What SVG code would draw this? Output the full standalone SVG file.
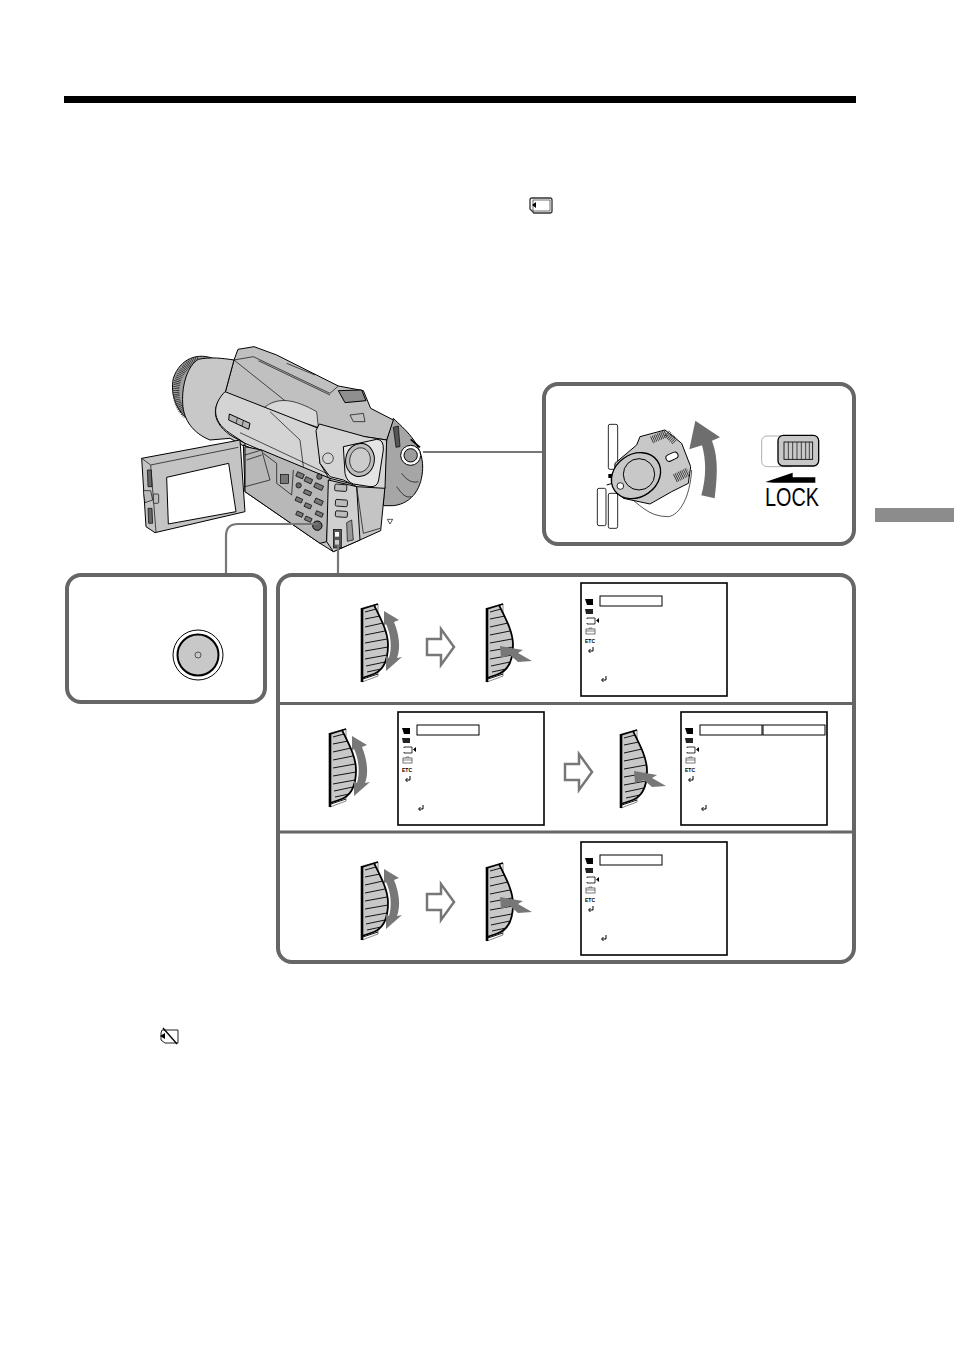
<svg xmlns="http://www.w3.org/2000/svg" xmlns:xlink="http://www.w3.org/1999/xlink" width="954" height="1352" viewBox="0 0 954 1352">
<style>
.box{fill:#fff;stroke:#666;stroke-width:4}
.conn{fill:none;stroke:#777;stroke-width:2.2}
.menu{fill:#fff;stroke:#000;stroke-width:1.6}
.sel{fill:#fff;stroke:#000;stroke-width:1}
.ln{fill:none;stroke:#000;stroke-width:.9}
.t{fill:none;stroke:#000;stroke-width:3}
.n{fill:none;stroke:#000;stroke-width:2}
.g{fill:#c8c8c8;stroke:#000;stroke-width:3}
.w{fill:#fff;stroke:#000;stroke-width:3}
.ar{fill:#777}
.etc{font:bold 5px "Liberation Sans",Arial,sans-serif;fill:#000}
.lock{font:26px "Liberation Sans",Arial,sans-serif;fill:#000}
</style>
<defs>
<g id="dial">
<path d="M1 4L17 0V72L1 78Z" fill="#fff" stroke="#555" stroke-width=".7"/>
<path d="M1 5L13 1C20 15 27 28 27 41C27 58 21 68 10 71L1 74Z" fill="#c8c8c8"/>
<path d="M13 1C20 15 27 28 27 41C27 58 21 68 10 71L1 74" fill="none" stroke="#000" stroke-width="1.800"/>
<path d="M1 4V78" stroke="#000" stroke-width="2.600"/>
<path d="M1 5L17 0" stroke="#000" stroke-width="1.500"/>
<path class="ln" d="M4 8L15 5M4 15L19 12M4 23L22 19M4 31L24 27M4 39L26 35M4 47L27 43M4 55L26 51M5 62L24 58M6 68L20 65M2 75L17 70"/>
</g>
<path id="turn" class="ar" d="M23 7L38 16L33 18C38 30 40 44 36 54L41 53L25 67L25 52L28 54C31 44 30 30 25 20L23 22Z"/>
<path id="push" class="ar" d="M0 0L23 4L18 7L32 15L18 16L10 9L1 12Z"/>
<path id="hollow" fill="#fff" stroke="#777" stroke-width="2.500" d="M1 11H15V1L28 19L15 37V27H1Z"/>
<g id="menuframe">
<rect class="menu" width="146" height="113"/>
<path d="M4 16H12V22H6Z" fill="#000"/>
<path d="M4 26H12V31H5Z" fill="#222"/>
<path d="M6 35H14V41H6M6 35V36M6 40V41" fill="none" stroke="#000" stroke-width=".8"/>
<path d="M18 35V40L15 37.500Z" fill="#000"/>
<rect x="5" y="46" width="9" height="5" fill="none" stroke="#555" stroke-width=".8"/>
<path d="M5 48H14M8 46V45H11V46" fill="none" stroke="#555" stroke-width=".7"/>
<text class="etc" x="4" y="60">ETC</text>
<path d="M12 64V68H8M9.500 66L7.500 68L9.500 70" fill="none" stroke="#000" stroke-width="1"/>
<path d="M25 93V97H21M22.500 95L20.500 97L22.500 99" fill="none" stroke="#000" stroke-width="1"/>
</g>
</defs>
<rect width="954" height="1352" fill="#fff"/>
<rect id="top-rule" x="64" y="96" width="792" height="7" fill="#000"/>
<rect id="side-tab" x="875" y="508" width="79" height="14" fill="#8c8c8c"/>
<g id="card-icon" fill="none" stroke="#333" stroke-width="1.300">
<path d="M532 198H550Q552 198 552 200V211Q552 213 550 213H534L530 209V200Q530 198 532 198Z"/>
<rect x="533" y="200" width="17" height="11" stroke-width=".7"/>
<path d="M536 202V208L532 205Z" fill="#000" stroke="none"/>
</g>
<g id="no-card-icon" fill="none" stroke="#222" stroke-width="1">
<path d="M162 1030H178V1043H165L161 1040V1033Z"/>
<path d="M165 1033V1039L160 1036Z" fill="#000" stroke="none"/>
<path d="M163 1028L177 1044" stroke="#000" stroke-width="1.300"/>
</g>
<g id="camcorder" transform="translate(130 340) scale(.33333)">
<path class="g" style="fill:#a6a6a6" d="M790 235C820 265 880 310 878 385C876 440 850 490 790 497L760 497L770 300Z"/>
<path class="n" d="M815 400C830 420 845 430 865 425M800 440C815 460 825 475 845 470"/>
<path d="M255 58C205 35 150 55 130 115C120 165 140 215 178 240L240 200Z" fill="#a0a0a0" stroke="#000" stroke-width="3"/>
<path d="M205 58C165 70 140 110 138 150C138 185 150 210 170 228" fill="none" stroke="#333" stroke-width="20" stroke-dasharray="2.500 3"/>
<path class="g" style="fill:#c0c0c0" d="M312 60L324 28L372 20L440 45L625 138L700 152L722 205L790 240L770 300L565 270L285 160Z"/>
<path class="n" d="M312 60L370 50L600 160M385 62L600 165M470 70L555 105M600 160L625 138M312 60L565 262"/>
<path class="g" style="fill:#8f8f8f" d="M625 152L695 150L708 182L645 188Z"/>
<path class="n" d="M660 225L700 220L705 245L670 245Z"/>
<path d="M400 205C440 170 490 175 560 215L565 262L420 215Z" fill="#d8d8d8" stroke="#000" stroke-width="2"/>
<path class="g" d="M205 58C240 50 280 55 312 60L285 160C250 190 238 240 300 285L345 310L345 320L300 295L240 300C190 280 160 240 158 190C155 130 175 75 205 58Z"/>
<path class="g" style="fill:#d4d4d4" d="M285 155L565 265L570 370L600 420L345 310L300 280C240 240 250 190 285 155Z"/>
<path class="n" d="M420 215L510 300L520 380M330 278L600 405"/>
<path class="w" style="fill:#b5b5b5" d="M298 222L360 250L356 268L296 240Z"/>
<path class="n" d="M322 235L318 250M340 243L336 258"/>
<path class="g" style="fill:#c4c4c4" d="M600 415L680 435L765 440L752 572L690 600L610 635L570 610L345 455L340 315Z"/>
<path class="g" style="fill:#d4d4d4" d="M558 272L568 252L705 290L770 300L765 445L680 440L640 420L600 410L570 370Z"/>
<circle cx="594" cy="355" r="16" class="n"/>
<path d="M640 320L740 298Q762 298 760 330L746 420Q742 442 720 440L670 432Q650 425 645 400Z" fill="#e4e4e4" stroke="#000" stroke-width="3"/>
<ellipse cx="690" cy="360" rx="43" ry="50" transform="rotate(10 690 360)" fill="#bdbdbd" stroke="#000" stroke-width="3"/>
<ellipse cx="690" cy="360" rx="31" ry="37" transform="rotate(10 690 360)" fill="#ccc" stroke="#000" stroke-width="2"/>
<path d="M790 262L805 258L810 320L798 322Z" fill="#555" stroke="#000" stroke-width="2"/>
<circle cx="842" cy="346" r="30" fill="#fff" stroke="#000" stroke-width="3"/>
<circle cx="842" cy="346" r="20" fill="#9c9c9c" stroke="#000" stroke-width="3"/>
<path d="M842 298L870 322" stroke="#000" stroke-width="5"/>
<path class="g" style="fill:#b8b8b8" d="M345 320L395 330L600 415L590 605L570 610L345 455Z"/>
<path class="n" d="M345 345L395 330L420 420L345 440M350 360L395 345M400 340L440 370L440 430L485 465L490 390"/>
<rect x="452" y="404" width="24" height="26" class="n" style="fill:#777"/>
<g fill="#777" stroke="#000" stroke-width="2">
<rect x="503" y="395" width="22" height="14" transform="rotate(24 503 395)"/>
<rect x="528" y="410" width="22" height="14" transform="rotate(24 528 410)"/>
<rect x="557" y="428" width="26" height="14" transform="rotate(24 557 428)"/>
<rect x="525" y="448" width="22" height="12" transform="rotate(24 525 448)"/>
<rect x="558" y="474" width="24" height="14" transform="rotate(24 558 474)"/>
<rect x="500" y="470" width="20" height="12" transform="rotate(24 500 470)"/>
<rect x="527" y="488" width="20" height="12" transform="rotate(24 527 488)"/>
<rect x="502" y="513" width="20" height="12" transform="rotate(24 502 513)"/>
<rect x="528" y="528" width="20" height="12" transform="rotate(24 528 528)"/>
<rect x="560" y="512" width="22" height="12" transform="rotate(24 560 512)"/>
</g>
<circle cx="506" cy="436" r="8" class="n" style="fill:#666"/>
<circle cx="568" cy="410" r="8" class="n" style="fill:#666"/>
<circle cx="562" cy="557" r="14" fill="#666" stroke="#000" stroke-width="3"/>
<path class="g" style="fill:#cfcfcf" d="M595 420L680 440L690 600L610 635L590 605Z"/>
<path class="n" d="M680 440L700 580L750 565"/>
<g fill="#bbb" stroke="#000" stroke-width="2.500">
<rect x="615" y="432" width="36" height="20" rx="4" transform="rotate(4 615 432)"/>
<rect x="617" y="478" width="36" height="20" rx="4" transform="rotate(4 617 478)"/>
<rect x="617" y="512" width="36" height="18" rx="4" transform="rotate(4 617 512)"/>
</g>
<rect x="610" y="568" width="24" height="56" fill="#555" stroke="#000" stroke-width="2"/>
<rect x="615" y="576" width="12" height="14" fill="#fff"/>
<rect x="615" y="600" width="12" height="14" fill="#ccc"/>
<path d="M650 548L665 540L670 600L652 604Z" fill="#999" stroke="#000" stroke-width="2"/>
<path d="M772 538L788 538L780 552Z" class="n"/>
<path class="g" style="fill:#c4c4c4" d="M35 355L330 300L345 515L75 578L48 560Z"/>
<path class="n" d="M35 355L62 375L325 322M62 375L78 576"/>
<path d="M110 412L296 370L318 515L115 552Z" fill="#fff" stroke="#000" stroke-width="3"/>
<path d="M52 390H64L66 440H54ZM54 505H66L68 550H56Z" fill="#666" stroke="#000" stroke-width="2"/>
<path d="M40 452H62L68 480L45 488Z" fill="#bbb" stroke="#000" stroke-width="2"/>
<rect x="70" y="462" width="16" height="28" rx="3" fill="#bbb" stroke="#000" stroke-width="2"/>
</g>
<g id="connectors">
<path class="conn" d="M423 452H544"/>
<path class="conn" d="M318 524H238Q226 524 226 536V575"/>
<path class="conn" d="M338 545V575"/>
</g>
<g id="lock-panel">
<rect class="box" x="544" y="384" width="310" height="160" rx="14"/>
<g transform="translate(540 380) scale(.33333)">
<rect x="205" y="133" width="28" height="135" rx="5" class="w" style="stroke-width:2.500"/>
<rect x="205" y="340" width="28" height="105" rx="5" class="w" style="stroke-width:2.500"/>
<rect x="172" y="325" width="26" height="112" rx="5" class="w" style="stroke-width:2.500"/>
<path d="M200 315L235 305" class="t"/>
<rect x="205" y="282" width="12" height="12" fill="#000"/>
<path d="M250 340C300 370 320 410 385 410C420 405 450 350 455 270" fill="#fff" stroke="#000" stroke-width="2"/>
<path class="g" d="M225 250L290 195L300 170L375 150L425 190L452 260L445 310L395 335L330 372L250 355L222 320Z"/>
<path d="M335 180L380 160L405 185" fill="none" stroke="#333" stroke-width="22" stroke-dasharray="2.500 3"/>
<path d="M405 295L445 275" fill="none" stroke="#333" stroke-width="26" stroke-dasharray="2.500 3"/>
<rect x="377" y="220" width="38" height="20" rx="10" transform="rotate(-25 396 230)" fill="#fff" stroke="#000" stroke-width="3"/>
<ellipse cx="288" cy="287" rx="78" ry="64" transform="rotate(-35 288 287)" fill="#c8c8c8" stroke="#000" stroke-width="4"/>
<circle cx="297" cy="283" r="47" fill="#c8c8c8" stroke="#000" stroke-width="3"/>
<circle cx="241" cy="318" r="10" fill="#fff" stroke="#000" stroke-width="2.500"/>
<path d="M466 122L540 172L516 182C538 240 530 300 524 355L484 346C500 290 498 240 486 196L448 208Z" fill="#6e6e6e"/>
<rect x="665" y="168" width="100" height="92" rx="16" fill="#fff" stroke="#888" stroke-width="2"/>
<rect x="714" y="166" width="122" height="92" rx="16" fill="#c8c8c8" stroke="#000" stroke-width="4"/>
<rect x="732" y="186" width="86" height="52" fill="none" stroke="#000" stroke-width="2.500"/>
<path d="M745 186V238M758 186V238M771 186V238M784 186V238M797 186V238M808 186V238" stroke="#000" stroke-width="2"/>
<path d="M676 306L758 278V292H826V308H700Z" fill="#000"/>
</g>
<text class="lock" x="765" y="506" textLength="54" lengthAdjust="spacingAndGlyphs">LOCK</text>
</g>
<g id="button-panel">
<rect class="box" x="67" y="575" width="198" height="127" rx="14"/>
<circle cx="198" cy="655" r="25" fill="#fff" stroke="#000" stroke-width="1"/>
<circle cx="198" cy="655" r="20.500" fill="#c8c8c8" stroke="#000" stroke-width="2"/>
<circle cx="198" cy="655" r="3" fill="#c8c8c8" stroke="#333" stroke-width=".8"/>
</g>
<g id="steps-panel">
<rect class="box" x="278" y="575" width="576" height="387" rx="14"/>
<path d="M278 703.500H854M278 832H854" stroke="#666" stroke-width="3"/>
</g>
<g id="step-1">
<use xlink:href="#dial" href="#dial" x="361" y="604"/>
<use xlink:href="#turn" href="#turn" x="361" y="604"/>
<use xlink:href="#hollow" href="#hollow" x="426" y="628"/>
<use xlink:href="#dial" href="#dial" x="486" y="604"/>
<use xlink:href="#push" href="#push" x="500" y="646"/>
<use xlink:href="#menuframe" href="#menuframe" x="581" y="583"/>
<rect class="sel" x="600" y="596" width="62" height="10"/>
</g>
<g id="step-2">
<use xlink:href="#dial" href="#dial" x="329" y="729"/>
<use xlink:href="#turn" href="#turn" x="329" y="729"/>
<use xlink:href="#menuframe" href="#menuframe" x="398" y="712"/>
<rect class="sel" x="417" y="725" width="62" height="10"/>
<use xlink:href="#hollow" href="#hollow" x="564" y="753"/>
<use xlink:href="#dial" href="#dial" x="620" y="730"/>
<use xlink:href="#push" href="#push" x="634" y="771"/>
<use xlink:href="#menuframe" href="#menuframe" x="681" y="712"/>
<rect class="sel" x="700" y="725" width="62" height="10"/>
<rect class="sel" x="763" y="725" width="62" height="10"/>
</g>
<g id="step-3">
<use xlink:href="#dial" href="#dial" x="361" y="862"/>
<use xlink:href="#turn" href="#turn" x="361" y="862"/>
<use xlink:href="#hollow" href="#hollow" x="426" y="883"/>
<use xlink:href="#dial" href="#dial" x="486" y="863"/>
<use xlink:href="#push" href="#push" x="500" y="897"/>
<use xlink:href="#menuframe" href="#menuframe" x="581" y="842"/>
<rect class="sel" x="600" y="855" width="62" height="10"/>
</g>
</svg>
